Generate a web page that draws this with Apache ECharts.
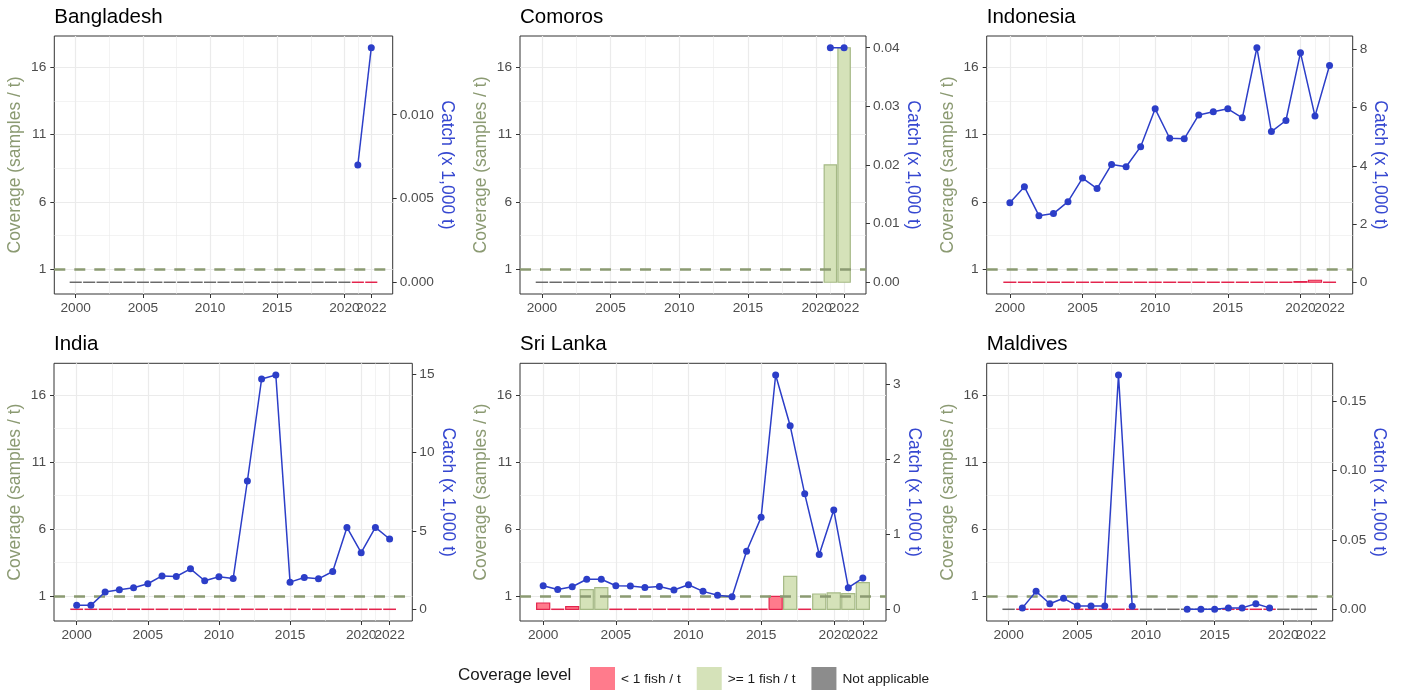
<!DOCTYPE html>
<html>
<head>
<meta charset="utf-8">
<script src="https://cdn.jsdelivr.net/npm/echarts@6/dist/echarts.min.js"></script>
<style>html,body{margin:0;padding:0;background:#fff}#chart{width:1404px;height:690px}</style>
</head>
<body>
<div id="chart"></div>
<script>
// ---------------- DATA ----------------
const years = [2000,2001,2002,2003,2004,2005,2006,2007,2008,2009,2010,2011,2012,2013,2014,2015,2016,2017,2018,2019,2020,2021,2022];
const countries = ['Bangladesh','Comoros','Indonesia','India','Sri Lanka','Maldives'];
const levelNames = ['< 1 fish / t', '>= 1 fish / t', 'Not applicable'];
// L = '< 1 fish / t', G = '>= 1 fish / t', N = 'Not applicable'
const bangladeshLevel = ['N','N','N','N','N','N','N','N','N','N','N','N','N','N','N','N','N','N','N','N','N','L','L'];
const comorosLevel    = ['N','N','N','N','N','N','N','N','N','N','N','N','N','N','N','N','N','N','N','N','N','G','G'];
const indonesiaLevel  = ['L','L','L','L','L','L','L','L','L','L','L','L','L','L','L','L','L','L','L','L','L','L','L'];
const indiaLevel      = ['L','L','L','L','L','L','L','L','L','L','L','L','L','L','L','L','L','L','L','L','L','L','L'];
const sriLankaLevel   = ['L','L','L','G','G','L','L','L','L','L','L','L','L','L','L','L','L','G','L','G','G','G','G'];
const maldivesLevel   = ['N','L','L','L','L','L','L','L','L','L','N','N','N','N','N','N','L','L','L','L','N','N','N'];

const bangladeshCoverage = [0,0,0,0,0,0,0,0,0,0,0,0,0,0,0,0,0,0,0,0,0,0,0];
const comorosCoverage    = [0,0,0,0,0,0,0,0,0,0,0,0,0,0,0,0,0,0,0,0,0,8.75,17.48];
const indonesiaCoverage  = [0,0,0,0,0,0,0,0,0,0,0,0,0,0,0,0,0,0,0,0,0.05,0.15,0];
const indiaCoverage      = [0,0,0,0,0,0,0,0,0,0,0,0,0,0,0,0,0,0,0,0,0,0,0];
const sriLankaCoverage   = [0.47,0,0.2,1.46,1.61,0,0,0,0,0,0,0,0,0,0,0,0.97,2.46,0,1.14,1.22,1.17,1.99];
const maldivesCoverage   = [0,0,0,0,0,0,0,0,0,0,0,0,0,0,0,0,0,0,0,0,0,0,0];

const bangladeshCatch = [null,null,null,null,null,null,null,null,null,null,null,null,null,null,null,null,null,null,null,null,null,0.007,0.014];
const comorosCatch    = [null,null,null,null,null,null,null,null,null,null,null,null,null,null,null,null,null,null,null,null,null,0.04,0.04];
const indonesiaCatch  = [2.73,3.28,2.29,2.36,2.77,3.58,3.22,4.05,3.97,4.66,5.96,4.95,4.93,5.75,5.86,5.96,5.65,8.06,5.18,5.56,7.89,5.71,7.45];
const indiaCatch      = [0.25,0.25,1.10,1.25,1.37,1.63,2.13,2.09,2.58,1.82,2.07,1.96,8.18,14.68,14.94,1.73,2.03,1.94,2.41,5.22,3.61,5.22,4.48];
const sriLankaCatch   = [0.314,0.265,0.30,0.40,0.40,0.314,0.31,0.29,0.305,0.257,0.327,0.239,0.186,0.168,0.774,1.226,3.124,2.447,1.54,0.73,1.323,0.288,0.416];
const maldivesCatch   = [null,0.001,0.0129,0.004,0.0079,0.0024,0.0024,0.0024,0.1686,0.0021,null,null,null,0,0,0,0.001,0.001,0.004,0.001,null,null,null];

const yearTicks = [2000,2005,2010,2015,2020,2022];
const yearMinorTicks = [2002.5,2007.5,2012.5,2017.5,2021];
const coverageTicks = [1,6,11,16];
const coverageMinorTicks = [3.5,8.5,13.5];
const coverageThreshold = 1;
const bangladeshCatchTicks = [0,0.005,0.010];
const comorosCatchTicks    = [0,0.01,0.02,0.03,0.04];
const indonesiaCatchTicks  = [0,2,4,6,8];
const indiaCatchTicks      = [0,5,10,15];
const sriLankaCatchTicks   = [0,1,2,3];
const maldivesCatchTicks   = [0,0.05,0.10,0.15];

// ---------------- LAYOUT / STYLE ----------------
const FONT = '"Liberation Sans", Arial, Helvetica, sans-serif';
const OLIVE = '#8b9a72';
const BLUE = '#2c3ec8';
const BLUE_TXT = '#3547d0';
const TICK_TXT = '#4d4d4d';
const GRID_C = '#ebebeb';
const LEVEL_STYLE = {
  L: {fill: '#ff7b8c', stroke: '#e3244d'},
  G: {fill: '#d5e2b9', stroke: '#a5b985'},
  N: {fill: '#8c8c8c', stroke: '#6a6a6a'}
};
const BAR_W = 0.9;

const panels = [
  {name: countries[0], cov: bangladeshCoverage, lvl: bangladeshLevel, cat: bangladeshCatch, ticks: bangladeshCatchTicks, dec: 3, rect: [54.3, 36, 338.4, 258], titleTop: 7, gapR: 44},
  {name: countries[1], cov: comorosCoverage, lvl: comorosLevel, cat: comorosCatch, ticks: comorosCatchTicks, dec: 2, rect: [520, 36, 346, 258], titleTop: 7, gapR: 37.5},
  {name: countries[2], cov: indonesiaCoverage, lvl: indonesiaLevel, cat: indonesiaCatch, ticks: indonesiaCatchTicks, dec: 0, rect: [986.7, 36, 366, 258], titleTop: 7, gapR: 18},
  {name: countries[3], cov: indiaCoverage, lvl: indiaLevel, cat: indiaCatch, ticks: indiaCatchTicks, dec: 0, rect: [54, 363.3, 358.3, 257.7], titleTop: 334, gapR: 26},
  {name: countries[4], cov: sriLankaCoverage, lvl: sriLankaLevel, cat: sriLankaCatch, ticks: sriLankaCatchTicks, dec: 0, rect: [520, 363.3, 366, 257.7], titleTop: 334, gapR: 18},
  {name: countries[5], cov: maldivesCoverage, lvl: maldivesLevel, cat: maldivesCatch, ticks: maldivesCatchTicks, dec: 2, rect: [986.7, 363.3, 346, 257.7], titleTop: 334, gapR: 37.5}
];

// shared scales (ggplot-like 5% expansion)
const allCov = [].concat(...panels.map(p => p.cov));
const covMax = Math.max(...allCov);
const yPad = covMax * 0.05;
const yMin = -yPad, yMax = covMax + yPad;
const xLo = years[0] - BAR_W / 2, xHi = years[years.length - 1] + BAR_W / 2;
const xPad = (xHi - xLo) * 0.05;
const xMin = xLo - xPad, xMax = xHi + xPad;

// the last year label overlaps its neighbour in the original; it is drawn by its own axis so both stay visible
const yearLabelsMain = yearTicks.slice(0, -1);
const yearLabelsLast = yearTicks.slice(-1);

const grid = [], xAxis = [], yAxis = [], series = [], title = [];
const labelStyle = {color: TICK_TXT, fontSize: 13.7, fontFamily: FONT, hideOverlap: false};
const tickStyle = {show: true, length: 4, lineStyle: {color: '#333333', width: 1}};
const noLine = {show: false, onZero: false};

panels.forEach((p, i) => {
  const [l, t, w, h] = p.rect;
  grid.push({left: l, top: t, width: w, height: h, show: true, backgroundColor: '#ffffff', borderColor: '#333333', borderWidth: 1});
  title.push({text: p.name, left: l, top: p.titleTop, padding: 0, textStyle: {fontSize: 20.5, fontWeight: 'normal', color: '#000', fontFamily: FONT}});

  xAxis.push({type: 'value', gridIndex: i, min: xMin, max: xMax, position: 'bottom',
    axisLine: noLine,
    axisTick: Object.assign({customValues: yearTicks}, tickStyle),
    axisLabel: Object.assign({customValues: yearLabelsMain, margin: 7, formatter: v => String(v)}, labelStyle),
    splitLine: {show: true, lineStyle: {color: GRID_C, width: 1.2}}});
  xAxis.push({type: 'value', gridIndex: i, min: xMin, max: xMax, position: 'top',
    axisLine: noLine, axisTick: {show: false, customValues: yearMinorTicks},
    axisLabel: {show: false}, splitLine: {show: true, lineStyle: {color: GRID_C, width: 0.6}}});
  xAxis.push({type: 'value', gridIndex: i, min: xMin, max: xMax, position: 'bottom', offset: 0,
    axisLine: noLine, axisTick: {show: false, customValues: yearLabelsLast},
    axisLabel: Object.assign({customValues: yearLabelsLast, margin: 7, formatter: v => String(v)}, labelStyle),
    splitLine: {show: false}});

  const catMax = Math.max(...p.cat.filter(v => v !== null));
  const k = catMax / covMax;
  yAxis.push({type: 'value', gridIndex: i, min: yMin, max: yMax, position: 'left',
    name: 'Coverage (samples / t)', nameLocation: 'middle', nameGap: 30,
    nameTextStyle: {color: OLIVE, fontSize: 17.5, fontFamily: FONT},
    axisLine: noLine,
    axisTick: Object.assign({customValues: coverageTicks}, tickStyle),
    axisLabel: Object.assign({customValues: coverageTicks, margin: 8, formatter: v => String(v)}, labelStyle),
    splitLine: {show: true, lineStyle: {color: GRID_C, width: 1.2}}});
  yAxis.push({type: 'value', gridIndex: i, min: yMin * k, max: yMax * k, position: 'right',
    name: 'Catch (x 1,000 t)', nameLocation: 'middle', nameRotate: -90, nameGap: p.gapR,
    nameTextStyle: {color: BLUE_TXT, fontSize: 17.5, fontFamily: FONT},
    axisLine: noLine,
    axisTick: Object.assign({customValues: p.ticks}, tickStyle),
    axisLabel: Object.assign({customValues: p.ticks, margin: 7, formatter: v => v.toFixed(p.dec)}, labelStyle),
    splitLine: {show: false}});
  yAxis.push({type: 'value', gridIndex: i, min: yMin, max: yMax, position: 'left',
    axisLine: noLine, axisTick: {show: false, customValues: coverageMinorTicks},
    axisLabel: {show: false}, splitLine: {show: true, lineStyle: {color: GRID_C, width: 0.6}}});

  const lv = p.lvl;
  series.push({
    type: 'custom', xAxisIndex: 3 * i, yAxisIndex: 3 * i, z: 2,
    data: years.map((yr, j) => [yr, p.cov[j], j]),
    encode: {x: 0, y: 1},
    renderItem: function (params, api) {
      const st = LEVEL_STYLE[lv[api.value(2)]];
      const x = api.value(0), v = api.value(1);
      const a = api.coord([x - BAR_W / 2, v]);
      const b = api.coord([x + BAR_W / 2, 0]);
      const hh = b[1] - a[1];
      if (hh < 0.5) {
        return {type: 'line', shape: {x1: a[0], y1: b[1], x2: b[0], y2: b[1]}, style: {stroke: st.stroke, lineWidth: 1.5}};
      }
      return {type: 'rect', shape: {x: a[0], y: a[1], width: b[0] - a[0], height: hh},
        style: {fill: st.fill, stroke: st.stroke, lineWidth: 1.2}};
    },
    markLine: {silent: true, symbol: 'none', label: {show: false},
      lineStyle: {color: OLIVE, type: [11, 9], width: 2.5},
      data: [{yAxis: coverageThreshold}]}
  });
  series.push({
    type: 'line', xAxisIndex: 3 * i, yAxisIndex: 3 * i + 1, z: 10,
    data: years.map((yr, j) => [yr, p.cat[j]]),
    symbol: 'circle', symbolSize: 7, showSymbol: true, connectNulls: false,
    lineStyle: {color: BLUE, width: 1.5}, itemStyle: {color: BLUE}
  });
});

// legend entries
const levelFills = [LEVEL_STYLE.L.fill, LEVEL_STYLE.G.fill, LEVEL_STYLE.N.fill];
levelNames.forEach((n, j) => {
  series.push({name: n, type: 'bar', xAxisIndex: 0, yAxisIndex: 0, data: [], itemStyle: {color: levelFills[j]}});
});
title.push({text: 'Coverage level', left: 458, top: 666.5, padding: 0, textStyle: {fontSize: 17, fontWeight: 'normal', color: '#1a1a1a', fontFamily: FONT}});

const chart = echarts.init(document.getElementById('chart'), null, {renderer: 'canvas'});
chart.setOption({
  animation: false,
  backgroundColor: '#ffffff',
  title: title,
  legend: {left: 585, top: 662, itemWidth: 25, itemHeight: 25, itemGap: 16, icon: 'rect', selectedMode: false,
    data: levelNames, textStyle: {fontSize: 13.7, color: '#1a1a1a', fontFamily: FONT, padding: [0, 0, 0, 1]}},
  grid: grid, xAxis: xAxis, yAxis: yAxis, series: series
});
</script>
</body>
</html>
